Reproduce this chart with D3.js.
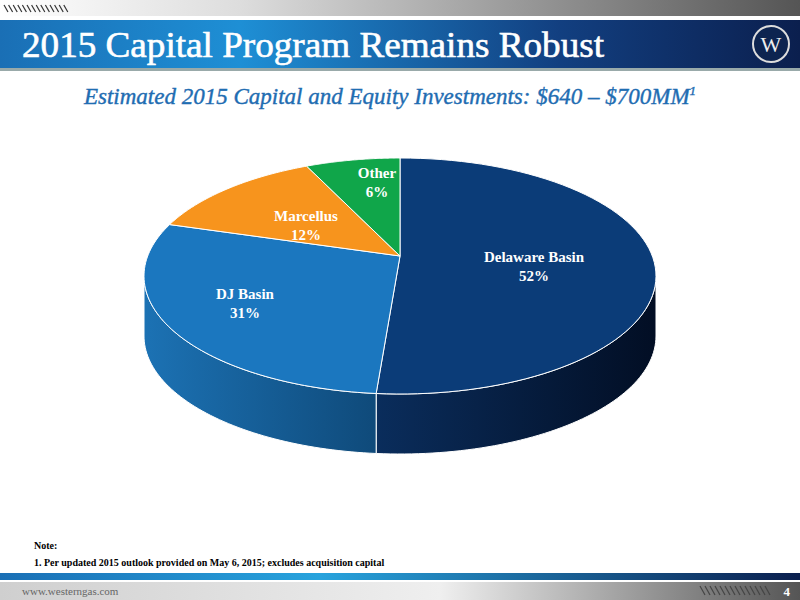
<!DOCTYPE html><html><head><meta charset="utf-8"><script src="https://cdn.jsdelivr.net/npm/d3@7"></script>
<style>body{margin:0;background:#fff}</style></head><body><svg id="c" width="800" height="600"></svg>
<script>
const categories=["Delaware Basin","DJ Basin","Marcellus","Other"];
const values=[52,31,12,6];
const labels=["52%","31%","12%","6%"];
const topColors=["#0b3c78","#1b77bf","#f7941d","#10a64a"];
const sideFill=["url(#sideD)","url(#sideJ)","#b86a10","#0a7a35"];
const svg=d3.select("#c");
const defs=svg.append("defs");
function lg(id,stops){const g=defs.append("linearGradient").attr("id",id).attr("x1",0).attr("y1",0).attr("x2",1).attr("y2",0);stops.forEach(s=>g.append("stop").attr("offset",s[0]).attr("stop-color",s[1]));}
lg("top",[[0,"#fff"],[0.3,"#ddd"],[1,"#555"]]);
lg("band",[[0,"#1a6fb5"],[0.3,"#1e8fd5"],[0.7,"#123f80"],[1,"#0b1f4e"]]);
lg("bot",[[0,"#1a6fb5"],[0.4,"#28a3dd"],[1,"#0b1f4e"]]);
lg("foot",[[0,"#cfcfcf"],[0.55,"#efefef"],[1,"#555"]]);
lg("sideD",[[0,"#0a2d5c"],[1,"#020e24"]]);
lg("sideJ",[[0,"#1c72b4"],[1,"#0f4a7a"]]);
svg.append("rect").attr("x",0).attr("y",0).attr("width",800).attr("height",16).attr("fill","url(#top)");
svg.append("rect").attr("x",0).attr("y",20).attr("width",800).attr("height",48).attr("fill","url(#band)");
svg.append("rect").attr("x",0).attr("y",68).attr("width",800).attr("height",3).attr("fill","#9aa");
for(let i=0;i<14;i++)svg.append("line").attr("x1",4+i*4.6).attr("y1",5).attr("x2",8+i*4.6).attr("y2",12).attr("stroke","#333").attr("stroke-width",1.2);
svg.append("text").attr("x",22).attr("y",57).text("2015 Capital Program Remains Robust").attr("font-family","Liberation Serif").attr("font-size",36).attr("fill","#fff").attr("textLength",582).attr("lengthAdjust","spacingAndGlyphs").attr("stroke","#fff").attr("stroke-width",0.6);
svg.append("circle").attr("cx",771).attr("cy",44).attr("r",18).attr("fill","#0d2450").attr("stroke","#ddd").attr("stroke-width",2);
svg.append("text").attr("x",771).attr("y",52).attr("text-anchor","middle").text("W").attr("font-family","Liberation Serif").attr("font-size",22).attr("fill","#eee");
const sub=svg.append("text").attr("x",390).attr("y",104).attr("text-anchor","middle").attr("font-family","Liberation Serif").attr("font-style","italic").attr("font-size",23).attr("fill","#1f6db2").attr("stroke","#1f6db2").attr("stroke-width",0.4);
sub.append("tspan").text("Estimated 2015 Capital and Equity Investments: $640 \u2013 $700MM");
sub.append("tspan").text("1").attr("font-size",13).attr("dy",-9);

const cx=400,cy=276,rx=256,ry=118,depth=60;
const ax=400,ay=256;
const pie=d3.pie().sort(null)(values);
const pt=(a,dy=0)=>[cx+rx*Math.sin(a),cy-ry*Math.cos(a)+dy];
const g=svg.append("g");
pie.forEach((d,i)=>{
  const a0=Math.max(d.startAngle,Math.PI/2),a1=Math.min(d.endAngle,3*Math.PI/2);
  if(a1<=a0)return;
  const n=60,top=[],bot=[];
  for(let k=0;k<=n;k++){const a=a0+(a1-a0)*k/n;top.push(pt(a));bot.push(pt(a,depth));}
  g.append("path").attr("d",d3.line()(top.concat(bot.reverse()))+"Z").attr("fill",sideFill[i]).attr("stroke","#fff").attr("stroke-width",1);
});
pie.forEach((d,i)=>{
  const n=80,p=[[ax,ay]];
  for(let k=0;k<=n;k++)p.push(pt(d.startAngle+(d.endAngle-d.startAngle)*k/n));
  g.append("path").attr("d",d3.line()(p)+"Z").attr("fill",topColors[i]).attr("stroke","#fff").attr("stroke-width",1);
});
const lp=[[534,262],[245,299],[306,221],[377,178]];
pie.forEach((d,i)=>{
  const t=g.append("text").attr("text-anchor","middle").attr("font-family","Liberation Serif").attr("font-weight","bold").attr("font-size",15).attr("fill","#fff");
  t.append("tspan").attr("x",lp[i][0]).attr("y",lp[i][1]).text(categories[i]);
  t.append("tspan").attr("x",lp[i][0]).attr("y",lp[i][1]+19).text(labels[i]);
});
svg.append("text").attr("x",34).attr("y",549).text("Note:").attr("font-family","Liberation Serif").attr("font-weight","bold").attr("font-size",10);
svg.append("text").attr("x",34).attr("y",566).text("1.    Per updated 2015 outlook provided on May 6, 2015; excludes acquisition capital").attr("font-family","Liberation Serif").attr("font-weight","bold").attr("font-size",10);
svg.append("rect").attr("x",0).attr("y",573).attr("width",800).attr("height",7).attr("fill","url(#bot)");
svg.append("rect").attr("x",0).attr("y",582).attr("width",800).attr("height",18).attr("fill","url(#foot)");
svg.append("text").attr("x",22).attr("y",595).text("www.westerngas.com").attr("font-family","Liberation Serif").attr("font-size",11).attr("fill","#666");
for(let i=0;i<14;i++)svg.append("line").attr("x1",700+i*5).attr("y1",586).attr("x2",705+i*5).attr("y2",595).attr("stroke","#444").attr("stroke-width",1.2);
svg.append("text").attr("x",790).attr("y",596).attr("text-anchor","end").text("4").attr("font-family","Liberation Serif").attr("font-weight","bold").attr("font-size",13).attr("fill","#fff");
</script></body></html>
